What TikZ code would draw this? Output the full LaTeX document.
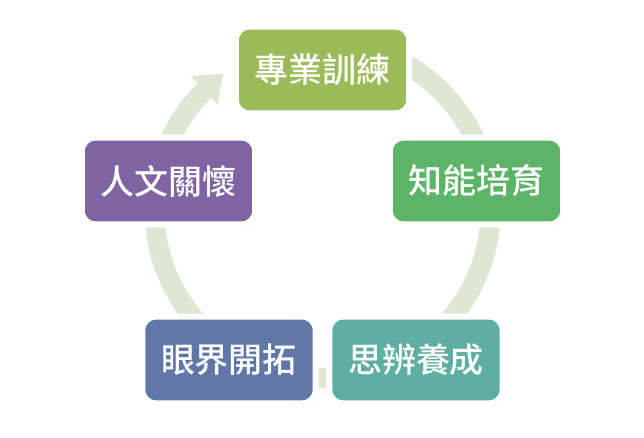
\documentclass[tikz,border=0pt]{standalone}
\usepackage{fontspec}
\newfontfamily\cjk[UprightFont={* Medium}]{Noto Sans CJK TC}
\usepackage{tikz}
\usetikzlibrary{arrows.meta,bending,shadows,positioning}
\definecolor{ringgreen}{HTML}{DEE7D3}
\definecolor{topgreen}{HTML}{9BBB59}
\definecolor{rightgreen}{HTML}{5BB467}
\definecolor{teal}{HTML}{5FAEA3}
\definecolor{slateblue}{HTML}{6077A8}
\definecolor{purple}{HTML}{8064A2}

\begin{document}
\begin{tikzpicture}[
                x=0.75pt,y=0.75pt,
                box/.style={fill=#1,draw=white,line width=4.5pt,rounded corners=10pt,
                    minimum width=130pt,minimum height=65pt,inner sep=0pt,
                    text=white,font=\cjk\fontsize{25.5}{30}\selectfont,
                    drop shadow={opacity=0.25,shadow xshift=1.5pt,shadow yshift=-2pt}},
                ring/.style={ringgreen,line width=15pt,
                    -{Triangle[width=28pt,length=19pt,bend]}}
            ]
                \useasboundingbox (0,0) rectangle (644,438);
                \coordinate (c) at (322.5,228);

                % the cycle behind the boxes
                \draw[ring] ([shift={(90:168)}]c) arc[start angle=90,end angle=-234,radius=168];

                \node[box=topgreen]   (zhuanye) at (322.5,368) {專業訓練};
                \node[box=rightgreen] (zhineng) at (476.5,257) {知能培育};
                \node[box=teal]       (sibian)  at (416,78)    {思辨養成};
                \node[box=slateblue]  (yanjie)  at (229,78)    {眼界開拓};
                \node[box=purple]     (renwen)  at (168.5,257) {人文關懷};
            \end{tikzpicture}
\end{document}
